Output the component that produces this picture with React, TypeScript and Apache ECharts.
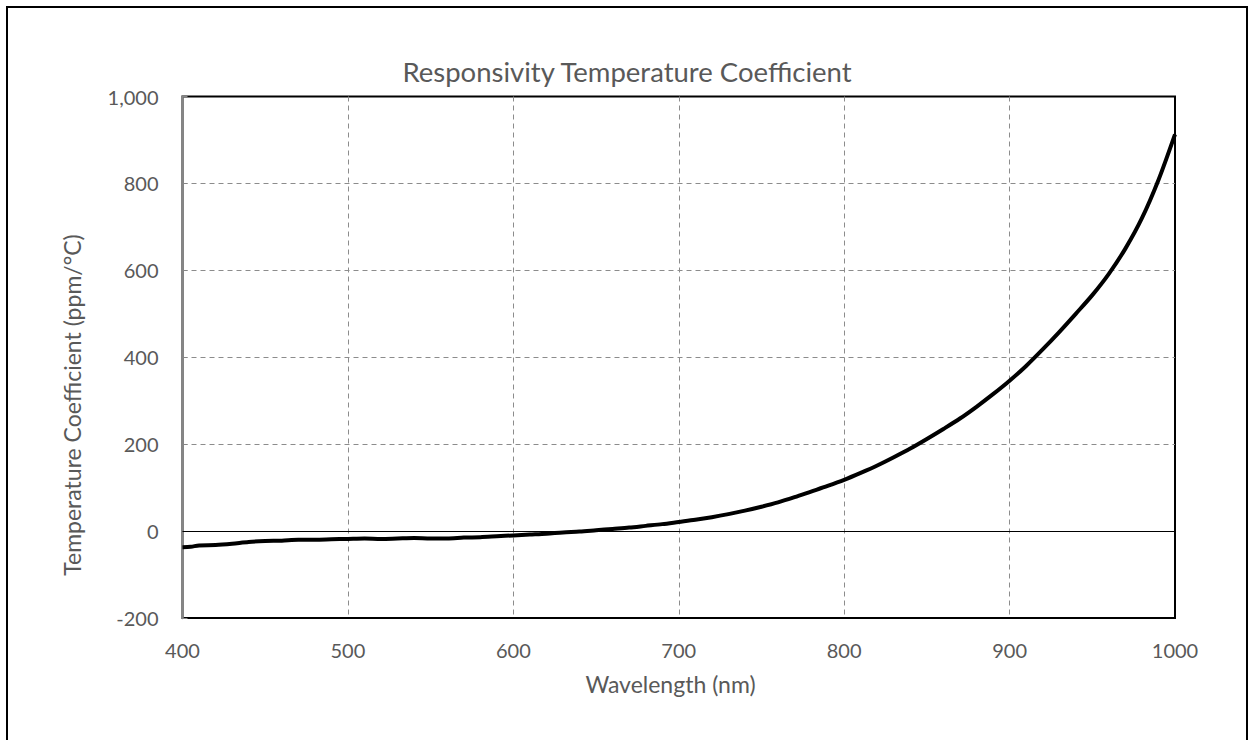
import React, { useEffect, useRef } from "react";
import * as echarts from "echarts";

const wavelengths = [
  400, 405, 410, 420, 430, 440, 450, 460, 470, 480, 490, 500, 510, 520, 530, 540, 550, 560, 570, 580,
  590, 600, 610, 620, 630, 640, 650, 660, 670, 680, 690, 700, 710, 720, 730, 740, 750, 760, 770, 780,
  790, 800, 810, 820, 830, 840, 850, 860, 870, 880, 890, 900, 910, 920, 930, 940, 950, 960, 970, 980,
  990, 1000,
];
const coefficients = [
  -37, -36, -33, -32, -29, -25, -23, -22, -20, -20, -19, -18, -17, -18, -17, -16, -17, -17, -15, -14,
  -12, -10, -8, -6, -3, -1, 2, 5, 8, 12, 16, 21, 26, 32, 39, 47, 56, 66, 78, 91,
  104, 118, 134, 151, 170, 190, 212, 235, 259, 286, 315, 346, 380, 418, 458, 500, 543, 592, 650, 720,
  808, 913,
];
const xTicks = [400, 500, 600, 700, 800, 900, 1000];
const yTicks = [-200, 0, 200, 400, 600, 800, 1000];

const FONT = "Lato, 'Open Sans', sans-serif";
const TXT = "#595959";

export default function App() {
  const ref = useRef<HTMLDivElement>(null);
  useEffect(() => {
    if (!ref.current) return;
    const chart = echarts.init(ref.current, undefined, { renderer: "svg" });
    const data = wavelengths.map((w, i) => [w, coefficients[i]]);
    chart.setOption({
      animation: false,
      backgroundColor: "#fff",
      textStyle: { fontFamily: FONT },
      grid: {
        left: 182.5,
        top: 96.5,
        right: 77,
        bottom: 122,
        show: true,
        borderColor: "#000",
        borderWidth: 2,
        containLabel: false,
      },
      xAxis: {
        type: "value",
        min: xTicks[0],
        max: xTicks[xTicks.length - 1],
        interval: 100,
        axisLine: { show: false },
        axisTick: { show: false },
        axisLabel: {
          color: TXT,
          fontSize: 20,
          fontFamily: FONT,
          margin: 22,
          formatter: (v: number) => String(v),
        },
        splitLine: {
          show: true,
          showMinLine: false,
          showMaxLine: false,
          lineStyle: { color: "#8c8c8c", type: [5, 4], width: 1 },
        },
      },
      yAxis: {
        type: "value",
        min: yTicks[0],
        max: yTicks[yTicks.length - 1],
        interval: 200,
        axisLine: { show: true, lineStyle: { color: "#868686", width: 2.5 } },
        axisTick: { show: true, inside: true, length: 5, lineStyle: { color: "#868686", width: 1 } },
        axisLabel: {
          color: TXT,
          fontSize: 20,
          fontFamily: FONT,
          margin: 24,
          formatter: (v: number) => v.toLocaleString("en-US"),
        },
        splitLine: {
          show: true,
          showMinLine: false,
          showMaxLine: false,
          lineStyle: { color: "#8c8c8c", type: [5, 4], width: 1 },
        },
      },
      graphic: [
        {
          type: "rect",
          shape: { x: 7, y: 7, width: 1240, height: 745 },
          style: { fill: "none", stroke: "#000", lineWidth: 2 },
          silent: true,
        },
        {
          type: "text",
          x: 627,
          y: 71,
          style: {
            text: "Responsivity Temperature Coefficient",
            fill: TXT,
            font: `27.5px ${FONT}`,
            align: "center",
            verticalAlign: "middle",
          },
        },
        {
          type: "text",
          x: 71.5,
          y: 405,
          rotation: Math.PI / 2,
          style: {
            text: "Temperature Coefficient (ppm/°C)",
            fill: TXT,
            font: `23px ${FONT}`,
            align: "center",
            verticalAlign: "middle",
          },
        },
        {
          type: "text",
          x: 670.5,
          y: 684,
          style: {
            text: "Wavelength (nm)",
            fill: TXT,
            font: `23px ${FONT}`,
            align: "center",
            verticalAlign: "middle",
          },
        },
      ],
      series: [
        {
          type: "line",
          data,
          smooth: 0.3,
          showSymbol: false,
          lineStyle: { color: "#000", width: 4 },
          z: 5,
          markLine: {
            silent: true,
            symbol: "none",
            label: { show: false },
            lineStyle: { color: "#000", width: 1, type: "solid" },
            data: [{ yAxis: 0 }],
            z: 3,
          },
        },
      ],
    });
    return () => chart.dispose();
  }, []);
  return (
    <div
      ref={ref}
      style={{ position: "fixed", left: 0, top: 0, width: 1252, height: 740 }}
    />
  );
}
